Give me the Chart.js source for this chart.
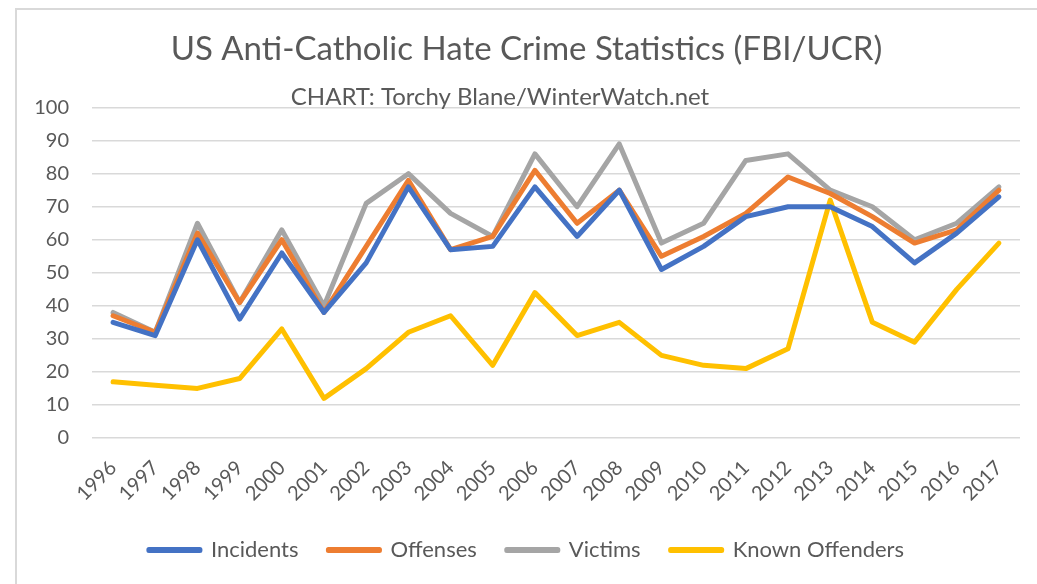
<!DOCTYPE html>
<html>
<head>
<meta charset="utf-8">
<script src="https://cdn.jsdelivr.net/npm/chart.js@4"></script>
<style>
    body { margin: 0; overflow: hidden; background: #fff; }
    #frame { position: absolute; left: 15px; top: 8px; width: 1100px; height: 700px; border: 2px solid #d9d9d9; }
    #wrap { position: absolute; left: 0; top: 0; width: 1037px; height: 584px; }
</style>
</head>
<body>
<div id="frame"></div>
<div id="wrap"><canvas id="myChart"></canvas></div>
<script>
// Years on the x axis
const years = ['1996', '1997', '1998', '1999', '2000', '2001', '2002', '2003', '2004', '2005', '2006',
    '2007', '2008', '2009', '2010', '2011', '2012', '2013', '2014', '2015', '2016', '2017'];

// Series values
const incidents = [35, 31, 60, 36, 56, 38, 53, 76, 57, 58, 76, 61, 75, 51, 58, 67, 70, 70, 64, 53, 62, 73];
const offenses = [37, 32, 62, 41, 60, 38, 58, 78, 57, 61, 81, 65, 75, 55, 61, 68, 79, 74, 67, 59, 63, 75];
const victims = [38, 32, 65, 41, 63, 40, 71, 80, 68, 61, 86, 70, 89, 59, 65, 84, 86, 75, 70, 60, 65, 76];
const knownOffenders = [17, 16, 15, 18, 33, 12, 21, 32, 37, 22, 44, 31, 35, 25, 22, 21, 27, 72, 35, 29, 45, 59];

const textColor = '#595959';
const fontFamily = 'Lato, "Open Sans", sans-serif';

function makeLine(label, data, color) {
    return {
        label: label,
        data: data,
        borderColor: color,
        backgroundColor: color,
        borderWidth: 5,
        borderJoinStyle: 'round',
        borderCapStyle: 'round',
        pointRadius: 0,
        tension: 0
    };
}

// Subtitle sits a bit left of centre in the original, so draw it by hand
const subtitlePlugin = {
    id: 'subtitleAt',
    afterDraw(chart) {
        const ctx = chart.ctx;
        ctx.save();
        ctx.font = '24px ' + fontFamily;
        ctx.fillStyle = textColor;
        ctx.textAlign = 'center';
        ctx.textBaseline = 'middle';
        ctx.fillText('CHART: Torchy Blane/WinterWatch.net', 500, 97);
        ctx.restore();
    }
};

const config = {
    type: 'line',
    data: {
        labels: years,
        datasets: [
            makeLine('Incidents', incidents, '#4472C4'),
            makeLine('Offenses', offenses, '#ED7D31'),
            makeLine('Victims', victims, '#A5A5A5'),
            makeLine('Known Offenders', knownOffenders, '#FFC000')
        ]
    },
    options: {
        responsive: true,
        maintainAspectRatio: false,
        animation: false,
        layout: {
            padding: { left: 33, right: 17, top: 0, bottom: 13 }
        },
        scales: {
            x: {
                offset: true,
                grid: { display: false, drawTicks: false },
                border: { display: false },
                ticks: {
                    color: textColor,
                    font: { family: fontFamily, size: 20 },
                    minRotation: 45,
                    maxRotation: 45,
                    autoSkip: false,
                    padding: 18
                },
                afterFit(scale) { scale.height = 71; }
            },
            y: {
                min: 0,
                max: 100,
                grid: { color: '#d9d9d9', lineWidth: 1.5, drawTicks: false },
                border: { display: false },
                ticks: {
                    stepSize: 10,
                    color: textColor,
                    font: { family: fontFamily, size: 20 },
                    padding: 23
                },
                afterFit(scale) { scale.width = 59; }
            }
        },
        plugins: {
            title: {
                display: true,
                text: 'US Anti-Catholic Hate Crime Statistics (FBI/UCR)',
                color: textColor,
                font: { family: fontFamily, size: 33, weight: 'normal' },
                padding: { top: 30, bottom: 38 }
            },
            legend: {
                display: true,
                position: 'bottom',
                labels: {
                    color: textColor,
                    font: { family: fontFamily, size: 22 },
                    boxWidth: 51,
                    boxHeight: 1,
                    padding: 30
                }
            },
            tooltip: { enabled: false }
        }
    },
    plugins: [subtitlePlugin]
};

window.myChart = new Chart(document.getElementById('myChart'), config);
</script>
</body>
</html>
